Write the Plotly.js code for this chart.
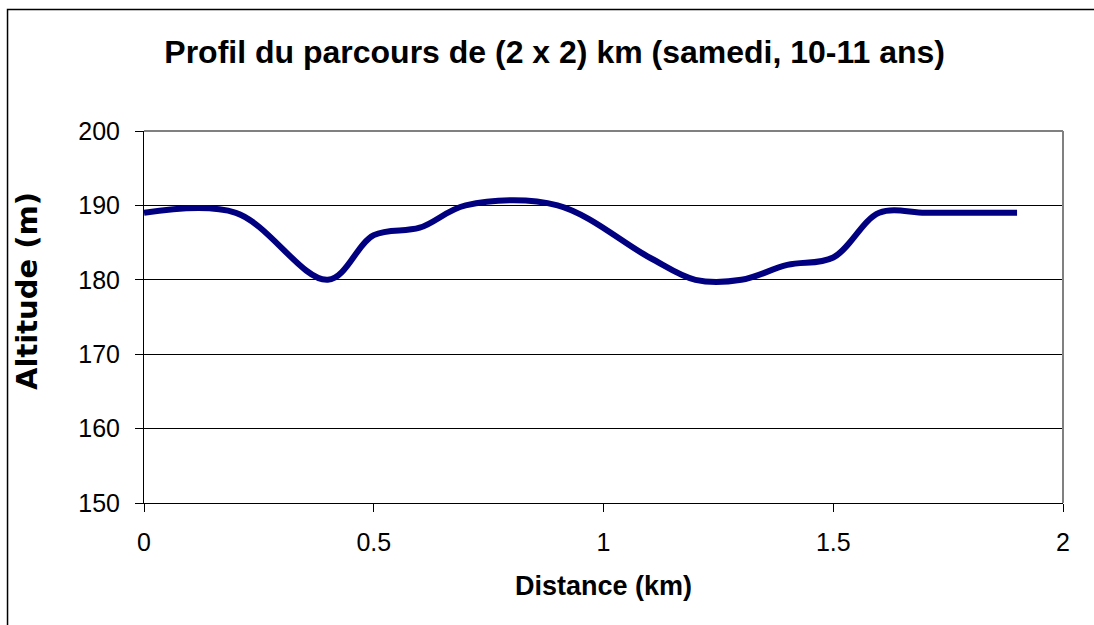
<!DOCTYPE html>
<html>
<head>
<meta charset="utf-8">
<script src="https://cdn.plot.ly/plotly-3.0.1.min.js"></script>
<style>html,body{margin:0;padding:0;background:#fff;}#chart{width:1094px;height:625px;}</style>
</head>
<body>
<div id="chart"></div>
<script>
const distanceKm = [0, 0.2, 0.4, 0.5, 0.6, 0.7, 0.9, 1.1, 1.2, 1.3, 1.4, 1.5, 1.6, 1.7, 1.8, 1.9];
const altitudeM  = [189, 189, 180, 186, 187, 190, 190, 183, 180, 180, 182, 183, 189, 189, 189, 189];
const xTickVals = [0, 0.5, 1, 1.5, 2];
const xTickText = ['0', '0.5', '1', '1.5', '2'];
const yTickVals = [150, 160, 170, 180, 190, 200];

const trace = {
  x: distanceKm, y: altitudeM, type: 'scatter', mode: 'lines',
  line: {color: '#000080', width: 6, shape: 'spline', smoothing: 1},
  hoverinfo: 'x+y'
};

const layout = {
  width: 1094, height: 625,
  margin: {l: 144, r: 31, t: 131, b: 122},
  paper_bgcolor: '#ffffff', plot_bgcolor: '#ffffff',
  showlegend: false,
  font: {family: 'Liberation Sans, Arial, sans-serif', color: '#000'},
  title: {text: '<b>Profil du parcours de (2 x 2) km (samedi, 10-11 ans)</b>', x: 0.507, xanchor: 'center', y: 0.917, yanchor: 'middle', font: {size: 32, color: '#000'}},
  xaxis: {
    range: [0, 2], tickvals: xTickVals, ticktext: xTickText,
    showgrid: false, zeroline: false, showline: true, linecolor: '#000', linewidth: 1,
    ticks: 'outside', ticklen: 8, tickcolor: '#000', tickwidth: 1,
    tickfont: {size: 25, color: '#000'}, ticklabelstandoff: 9,
    title: {text: '<b>Distance (km)</b>', font: {size: 27, color: '#000'}, standoff: 21}
  },
  yaxis: {
    range: [150, 200], tickvals: yTickVals,
    showgrid: true, gridcolor: '#000', gridwidth: 1, zeroline: false,
    showline: true, linecolor: '#000', linewidth: 1,
    ticks: 'outside', ticklen: 8, tickcolor: '#000', tickwidth: 1,
    tickfont: {size: 25, color: '#000'}, ticklabelstandoff: 10
  },
  annotations: [
    {text: '<b>Altitude (m)</b>', xref: 'paper', yref: 'paper', x: (27 - 144) / 919, y: (503 - 291) / 372,
     xanchor: 'center', yanchor: 'middle', textangle: -90, showarrow: false,
     font: {family: 'DejaVu Sans, sans-serif', size: 29, color: '#000'}}
  ],
  shapes: [
    {type: 'line', xref: 'paper', yref: 'paper', x0: 0, x1: 1, y0: 1, y1: 1, line: {color: '#808080', width: 2}},
    {type: 'line', xref: 'paper', yref: 'paper', x0: 1, x1: 1, y0: 0, y1: 1, line: {color: '#808080', width: 2}},
    {type: 'rect', xref: 'paper', yref: 'paper', x0: -0.1485, x1: 1.2, y0: -1, y1: 1.3266, line: {color: '#000', width: 1.5}, layer: 'below'}
  ]
};

Plotly.newPlot('chart', [trace], layout, {displayModeBar: false, staticPlot: true});
</script>
</body>
</html>
